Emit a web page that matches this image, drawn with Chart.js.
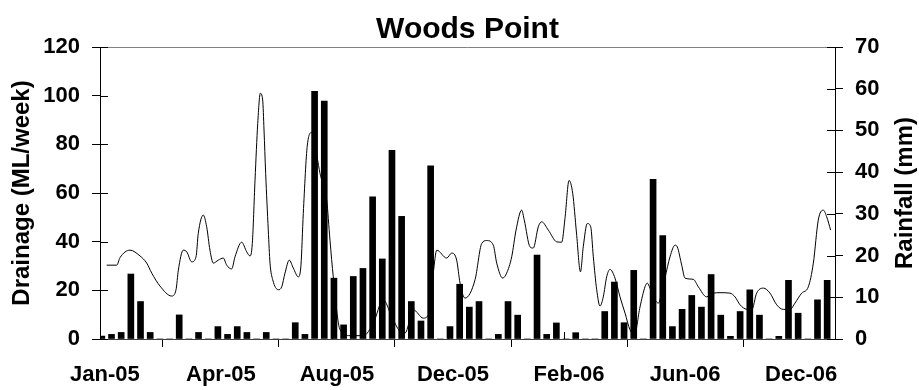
<!DOCTYPE html>
<html>
<head>
<meta charset="utf-8">
<script src="https://cdn.jsdelivr.net/npm/chart.js@4.4.1/dist/chart.umd.min.js"></script>
<style>
  html, body { margin: 0; padding: 0; background: #fff; }
  #wrap { width: 919px; height: 390px; }
</style>
</head>
<body>
<div id="wrap"><canvas id="myChart" width="919" height="390"></canvas></div>
<script>
// Weekly drainage bars (ML/week), one per category
const drainage = [
    1.2, 1.9, 2.7, 26.7, 15.4, 2.7, 0, 0, 9.9, 0,
    2.7, 0, 5.1, 1.9, 5.1, 2.7, 0, 2.7, 0, 0,
    6.7, 1.9, 101.8, 97.8, 25.0, 5.8, 25.7, 29.0, 58.4, 32.9,
    77.5, 50.4, 15.4, 7.4, 71.2, 0, 5.1, 22.5, 13.1, 15.4,
    0, 1.9, 15.4, 9.8, 0, 34.5, 1.9, 6.6, 0, 2.6,
    0, 0, 11.3, 23.4, 6.7, 28.2, 0, 65.6, 42.5, 5.1,
    12.2, 17.9, 13.1, 26.5, 9.8, 1.1, 11.3, 20.2, 9.8, 0,
    1.1, 24.1, 10.6, 0, 16.1, 24.1
];

// Rainfall line (mm): position along the category axis and value
const rainPos = [
    0.19, 1.23, 1.57, 2.60, 3.64, 4.33, 4.85, 5.70, 6.91, 7.36,
    7.60, 8.11, 8.47, 8.98, 9.43, 9.66, 10.18, 10.53, 10.87, 11.22,
    11.73, 12.25, 12.60, 13.12, 13.46, 14.15, 14.67, 15.01, 15.25, 15.53,
    15.81, 16.08, 16.32, 16.46, 16.63, 16.90, 17.08, 17.36, 17.94, 18.29,
    18.63, 19.07, 19.49, 20.00, 20.28, 20.52, 20.94, 21.39, 21.63, 22.25,
    22.94, 23.28, 23.62, 24.32, 25.35, 26.73, 27.76, 28.79, 29.66, 30.52,
    31.04, 31.90, 32.93, 33.45, 33.96, 34.32, 35.35, 35.87, 36.38, 36.73,
    37.24, 38.28, 38.97, 39.49, 40.17, 40.52, 41.14, 41.55, 42.07, 42.52,
    43.10, 43.37, 43.96, 44.30, 44.82, 45.17, 45.86, 46.72, 47.24, 47.58,
    48.00, 48.38, 48.77, 49.18, 49.47, 49.89, 50.24, 50.51, 50.86, 51.20,
    51.54, 51.89, 52.24, 52.75, 53.27, 53.79, 54.30, 54.75, 55.34, 55.85,
    56.09, 56.37, 56.89, 57.23, 57.58, 57.92, 58.44, 58.96, 59.19, 59.65,
    59.99, 60.85, 61.37, 62.23, 62.92, 63.61, 64.64, 65.16, 65.68, 66.37,
    66.89, 67.40, 68.09, 68.78, 69.47, 70.15, 70.85, 71.36, 72.06, 72.74,
    73.26, 73.77, 74.29, 74.64, 75.05
];
const rainfall = [
    17.7, 17.7, 19.5, 21.3, 19.9, 18.2, 15.8, 12.7, 10.3, 11.8,
    16.5, 21.3, 20.9, 18.5, 19.7, 25.3, 29.7, 26.9, 21.3, 18.2,
    18.9, 19.4, 17.7, 16.8, 19.7, 23.2, 20.9, 19.9, 22.9, 38.1,
    51.7, 58.9, 57.3, 50.1, 39.7, 26.1, 18.2, 14.2, 11.8, 12.5,
    15.8, 18.9, 17.0, 14.9, 17.7, 30.1, 46.5, 49.5, 47.7, 39.7,
    33.3, 23.7, 14.9, 2.2, 0.8, 0.8, 3.8, 9.4, 5.4, 1.8,
    1.4, 7.0, 5.0, 5.8, 15.8, 21.3, 19.4, 20.6, 18.9, 13.4,
    9.8, 14.2, 22.9, 23.6, 22.5, 18.2, 14.6, 15.8, 19.7, 26.1,
    30.9, 28.5, 22.1, 21.8, 26.9, 28.1, 26.1, 23.3, 23.2, 28.9,
    38.0, 34.9, 25.4, 16.1, 22.1, 27.7, 26.9, 19.7, 11.8, 7.9,
    10.1, 14.9, 16.7, 14.6, 10.1, 6.2, 2.2, 1.0, 7.7, 12.5,
    13.4, 12.2, 9.4, 8.6, 11.0, 14.6, 19.7, 22.5, 22.1, 17.7,
    14.6, 14.3, 12.5, 10.1, 11.0, 11.1, 11.0, 10.1, 8.2, 7.1,
    7.0, 11.0, 12.2, 11.0, 8.2, 7.1, 7.1, 8.6, 11.0, 12.5,
    18.2, 28.5, 30.9, 29.3, 26.1
];

// Tick labels, one every 12 categories
const tickLabels = ['Jan-05', 'Apr-05', 'Aug-05', 'Dec-05', 'Feb-06', 'Jun-06', 'Dec-06'];
const tickEvery = 12;
const categories = drainage.map((v, i) => (i % tickEvery === 0 ? tickLabels[i / tickEvery] : ''));

const fontFamily = "'Liberation Sans', Arial, sans-serif";
Chart.defaults.color = '#000';
Chart.defaults.font.family = fontFamily;

// Extra bits: gray top line, tick stubs inside the plot, right axis title
const frameExtras = {
    id: 'frameExtras',
    afterDraw(chart) {
        const ctx = chart.ctx;
        const area = chart.chartArea;
        const sx = chart.scales.x;
        const sy = chart.scales.y;
        const sy1 = chart.scales.y1;
        ctx.save();
        ctx.lineWidth = 1;

        ctx.strokeStyle = '#808080';
        ctx.beginPath();
        ctx.moveTo(area.left, area.top + 0.5);
        ctx.lineTo(area.right, area.top + 0.5);
        ctx.stroke();

        ctx.strokeStyle = '#000';
        ctx.beginPath();
        sy.ticks.forEach(t => {
            const py = Math.round(sy.getPixelForValue(t.value)) + 0.5;
            ctx.moveTo(area.left, py);
            ctx.lineTo(area.left + 8, py);
        });
        sy1.ticks.forEach(t => {
            const py = Math.round(sy1.getPixelForValue(t.value)) + 0.5;
            ctx.moveTo(area.right, py);
            ctx.lineTo(area.right - 8, py);
        });
        const half = (sx.getPixelForValue(1) - sx.getPixelForValue(0)) / 2;
        for (let i = 0; i < categories.length; i += tickEvery) {
            const px = Math.round(sx.getPixelForValue(i) - half) + 0.5;
            ctx.moveTo(px, area.bottom);
            ctx.lineTo(px, area.bottom - 7);
        }
        ctx.stroke();

        ctx.fillStyle = '#000';
        ctx.font = 'bold 24px ' + fontFamily;
        ctx.textAlign = 'center';
        ctx.textBaseline = 'middle';
        ctx.translate(905, (area.top + area.bottom) / 2);
        ctx.rotate(-Math.PI / 2);
        ctx.fillText('Rainfall (mm)', 0, 0);
        ctx.restore();
    }
};

const ctx = document.getElementById('myChart').getContext('2d');
const woodsChart = new Chart(ctx, {
    type: 'bar',
    data: {
        labels: categories,
        datasets: [{
            type: 'bar',
            label: 'Drainage',
            data: drainage,
            backgroundColor: '#000',
            barThickness: 6,
            xAxisID: 'x',
            yAxisID: 'y',
            order: 2
        }, {
            type: 'line',
            label: 'Rainfall',
            data: rainPos.map((p, i) => ({ x: p, y: rainfall[i] })),
            borderColor: '#000',
            borderWidth: 1,
            pointRadius: 0,
            fill: false,
            cubicInterpolationMode: 'monotone',
            xAxisID: 'xLine',
            yAxisID: 'y1',
            order: 1
        }]
    },
    options: {
        responsive: false,
        animation: false,
        events: [],
        layout: { padding: 0 },
        scales: {
            x: {
                type: 'category',
                offset: true,
                afterFit: s => { s.height = 51; },
                grid: {
                    offset: true,
                    drawOnChartArea: false,
                    tickLength: 8,
                    color: '#000'
                },
                border: { color: '#404040', width: 1 },
                ticks: {
                    autoSkip: false,
                    maxRotation: 0,
                    padding: 15,
                    font: { size: 22, weight: 'bold' },
                    callback: function (value, index) {
                        const lab = categories[index];
                        return lab === '' ? null : lab;
                    }
                }
            },
            xLine: {
                type: 'linear',
                display: false,
                offset: false,
                bounds: 'data',
                grace: 0,
                grid: { offset: false },
                min: -0.5,
                max: categories.length - 0.5
            },
            y: {
                position: 'left',
                min: 0,
                max: 120,
                afterFit: s => { s.width = 100; },
                grid: { drawOnChartArea: false, tickLength: 8, color: '#000' },
                border: { color: '#000', width: 1 },
                ticks: { stepSize: 20, padding: 12, font: { size: 22, weight: 'bold' } },
                title: {
                    display: true,
                    text: 'Drainage (ML/week)',
                    padding: { top: 8, bottom: 0 },
                    font: { size: 24, weight: 'bold' }
                }
            },
            y1: {
                position: 'right',
                min: 0,
                max: 70,
                afterFit: s => { s.width = 84; },
                grid: { drawOnChartArea: false, tickLength: 8, color: '#000' },
                border: { color: '#000', width: 1 },
                ticks: { stepSize: 10, padding: 12, font: { size: 22, weight: 'bold' } }
            }
        },
        plugins: {
            legend: { display: false },
            tooltip: { enabled: false },
            title: {
                display: true,
                text: 'Woods Point',
                fullSize: false,
                padding: { top: 13, bottom: 1 },
                font: { size: 30, weight: 'bold', lineHeight: 1.1 }
            }
        }
    },
    plugins: [frameExtras]
});
</script>
</body>
</html>
